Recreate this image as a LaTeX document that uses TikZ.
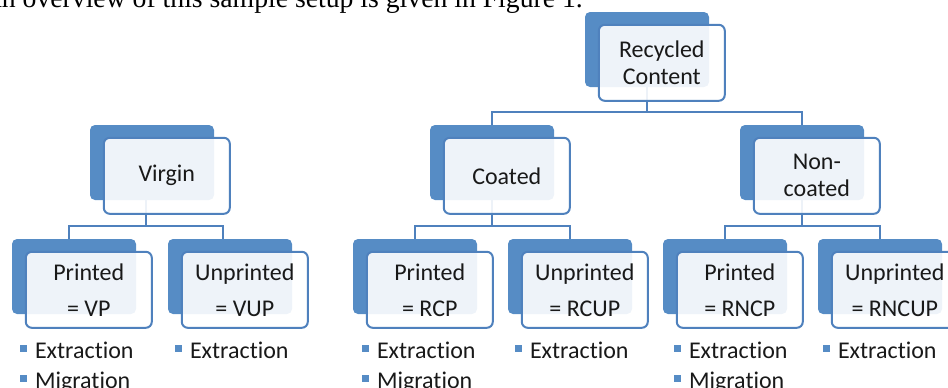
\documentclass[tikz,border=0pt]{standalone}
\usepackage{fontspec}
\setmainfont{Carlito}[Ligatures=NoCommon]
\newfontfamily\bodyserif{Liberation Serif}
\usepackage{xcolor}
\usepackage{tikz}
\usetikzlibrary{positioning}
\definecolor{accentblue}{RGB}{86,140,197}
\definecolor{edgeblue}{RGB}{79,129,189}
\definecolor{inktext}{RGB}{25,25,25}
\tikzset{
    backbox/.style={
        rectangle,
        rounded corners=5pt,
        fill=accentblue,
        minimum width=124pt,
        minimum height=75pt,
        inner sep=0pt
    },
    frontbox/.style={
        rectangle,
        rounded corners=6pt,
        draw=edgeblue,
        line width=2pt,
        fill=white,
        fill opacity=0.9,
        text opacity=1,
        minimum width=126pt,
        minimum height=76pt,
        inner sep=0pt,
        align=center,
        anchor=north west,
        text=inktext,
        font=\fontsize{24}{27}\selectfont
    },
    conn/.style={
        draw=edgeblue,
        line width=2pt
    },
    itemtext/.style={
        anchor=base west,
        inner sep=0pt,
        text=inktext,
        font=\fontsize{24}{27}\selectfont
    }
}
\newcommand{\sqbullet}{\textcolor{accentblue}{\rule[6pt]{7pt}{7pt}}\hspace{8pt}}

\begin{document}
\begin{tikzpicture}[x=1pt, y=-1pt]
\useasboundingbox (0,0) rectangle (948,388);
\clip (0,0) rectangle (948,388);

% Running text above the chart
\node[anchor=base east, inner sep=0pt, font=\bodyserif\fontsize{27.7}{30}\selectfont] (intro) at (583,7.5) {An overview of this sample setup is given in Figure 1.};

% Back boxes
\node[backbox] (rc_back) at (647,49.5) {};
\node[backbox] (virgin_back) at (152,162.5) {};
\node[backbox] (coated_back) at (492,162.5) {};
\node[backbox] (noncoated_back) at (802,162.5) {};
\node[backbox] (vp_back) at (74,276.5) {};
\node[backbox] (vup_back) at (230,276.5) {};
\node[backbox] (rcp_back) at (415,276.5) {};
\node[backbox] (rcup_back) at (570,276.5) {};
\node[backbox] (rncp_back) at (725,276.5) {};
\node[backbox] (rncup_back) at (880,276.5) {};

% Connectors (behind the front boxes)
\draw[conn] (rc_back.south) |- ([yshift=13pt]coated_back.north) -- (coated_back.north);
\draw[conn] (rc_back.south) |- ([yshift=13pt]noncoated_back.north) -- (noncoated_back.north);
\draw[conn] ([xshift=-6pt]virgin_back.south) |- ([shift={(-5pt,13pt)}]vp_back.north) -- ([xshift=-5pt]vp_back.north);
\draw[conn] ([xshift=-6pt]virgin_back.south) |- ([shift={(-7pt,13pt)}]vup_back.north) -- ([xshift=-7pt]vup_back.north);
\draw[conn] (coated_back.south) |- ([yshift=13pt]rcp_back.north) -- (rcp_back.north);
\draw[conn] (coated_back.south) |- ([yshift=13pt]rcup_back.north) -- (rcup_back.north);
\draw[conn] (noncoated_back.south) |- ([yshift=13pt]rncp_back.north) -- (rncp_back.north);
\draw[conn] (noncoated_back.south) |- ([yshift=13pt]rncup_back.north) -- (rncup_back.north);

% Front boxes with labels
\node[frontbox] (rc) at ([shift={(13pt,-12pt)}]rc_back.north west) {Recycled\\Content};
\node[frontbox] (virgin) at ([shift={(13pt,-12pt)}]virgin_back.north west) {Virgin};
\node[frontbox] (coated) at ([shift={(13pt,-12pt)}]coated_back.north west) {Coated};
\node[frontbox] (noncoated) at ([shift={(13pt,-12pt)}]noncoated_back.north west) {Non-\\coated};
\node[frontbox] (vp) at ([shift={(13pt,-12pt)}]vp_back.north west) {Printed\\[9pt]= VP};
\node[frontbox] (vup) at ([shift={(13pt,-12pt)}]vup_back.north west) {Unprinted\\[9pt]= VUP};
\node[frontbox] (rcp) at ([shift={(13pt,-12pt)}]rcp_back.north west) {Printed\\[9pt]= RCP};
\node[frontbox] (rcup) at ([shift={(13pt,-12pt)}]rcup_back.north west) {Unprinted\\[9pt]= RCUP};
\node[frontbox] (rncp) at ([shift={(13pt,-12pt)}]rncp_back.north west) {Printed\\[9pt]= RNCP};
\node[frontbox] (rncup) at ([shift={(13pt,-12pt)}]rncup_back.north west) {Unprinted\\[9pt]= RNCUP};

% Test methods under each sample
\node[itemtext] (vp_ext) at ([shift={(8pt,-44pt)}]vp_back.south west) {\sqbullet Extraction};
\node[itemtext] (vp_mig) at ([yshift=-30pt]vp_ext.base west) {\sqbullet Migration};
\node[itemtext] (vup_ext) at ([shift={(7pt,-44pt)}]vup_back.south west) {\sqbullet Extraction};
\node[itemtext] (rcp_ext) at ([shift={(9pt,-44pt)}]rcp_back.south west) {\sqbullet Extraction};
\node[itemtext] (rcp_mig) at ([yshift=-30pt]rcp_ext.base west) {\sqbullet Migration};
\node[itemtext] (rcup_ext) at ([shift={(7pt,-44pt)}]rcup_back.south west) {\sqbullet Extraction};
\node[itemtext] (rncp_ext) at ([shift={(11pt,-44pt)}]rncp_back.south west) {\sqbullet Extraction};
\node[itemtext] (rncp_mig) at ([yshift=-30pt]rncp_ext.base west) {\sqbullet Migration};
\node[itemtext] (rncup_ext) at ([shift={(5pt,-44pt)}]rncup_back.south west) {\sqbullet Extraction};

\end{tikzpicture}
\end{document}
